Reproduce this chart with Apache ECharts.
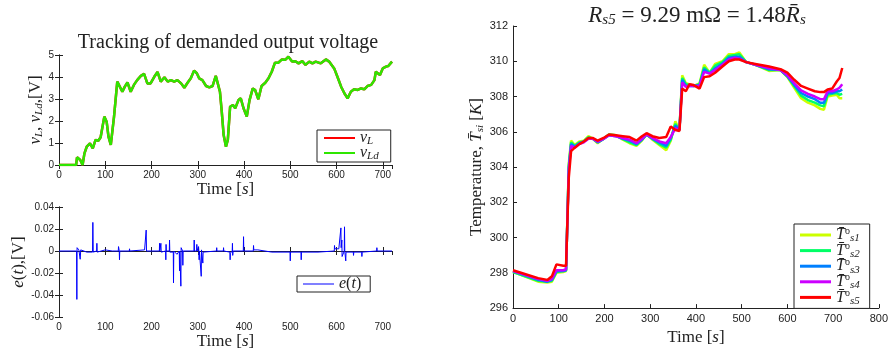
<!DOCTYPE html>
<html>
<head>
<meta charset="utf-8">
<script src="https://cdn.jsdelivr.net/npm/echarts@6/dist/echarts.min.js"></script>
<style>
  html, body { margin: 0; padding: 0; background: #fff; }
  #chart { width: 891px; height: 351px; }
</style>
</head>
<body>
<div id="chart"></div>
<script>
// top left: demanded / tracked output voltage
const voltT = [0, 37, 39, 46, 51, 55, 60, 67, 73, 79, 85, 90, 98, 103, 107, 112, 119, 126, 130, 137,
  142, 148, 155, 162, 169, 177, 184, 191, 198, 206, 213, 220, 228, 235, 242, 249, 256, 264, 271, 278,
  285, 292, 298, 303, 310, 318, 325, 332, 339, 343, 348, 352, 356, 361, 365, 370, 376, 381, 388, 393,
  399, 402, 406, 412, 419, 424, 431, 438, 446, 453, 460, 467, 474, 482, 489, 496, 504, 511, 518, 526,
  533, 541, 548, 555, 566, 577, 584, 595, 602, 610, 617, 624, 631, 638, 646, 653, 660, 667, 675, 682,
  685, 689, 694, 700, 707, 712, 720];
const vLd = [0, 0, 0.35, 0.23, 0, 0.53, 0.83, 0.98, 0.76, 1.14, 1.1, 1.26, 2.2, 1.97, 1.29, 0.91, 2.2, 3.79, 3.82, 3.33,
  3.55, 3.76, 3.33, 3.64, 3.86, 4.05, 4.14, 3.71, 3.71, 4.01, 4.23, 3.79, 3.99, 3.79, 3.86, 3.79, 3.86, 3.71, 3.51, 3.74,
  3.94, 4.29, 4.17, 3.94, 3.86, 3.59, 3.53, 3.59, 4.05, 3.99, 3.33, 2.4, 1.36, 0.83, 1.14, 2.65, 2.73, 2.58, 2.95, 3.03,
  2.58, 2.65, 2.2, 2.95, 3.48, 3.41, 2.99, 3.59, 3.74, 3.94, 4.24, 4.65, 4.65, 4.8, 4.78, 4.92, 4.7, 4.72, 4.62, 4.72,
  4.55, 4.7, 4.62, 4.7, 4.62, 4.8, 4.7, 4.39, 4.01, 3.56, 3.26, 3.03, 3.33, 3.44, 3.41, 3.48, 3.44, 3.59, 3.64, 3.86,
  4.24, 4.32, 4.09, 4.39, 4.47, 4.5, 4.7];
const vL = vLd; // v_L sits under v_Ld, the two can't be told apart

// bottom left: tracking error
const errT = [0, 38, 38.6, 39.1, 40.5, 43, 45.8, 47, 60, 72.5, 73.2, 74, 81.4, 81.9, 82.5, 100, 115,
  128.2, 128.7, 130.3, 130.8, 131.4, 152, 152.5, 153, 185, 188.5, 189.2, 217, 217.4, 218, 220.3, 221,
  230.5, 231, 231.5, 232, 238.5, 239, 239.6, 247.1, 247.6, 248.2, 255, 260, 260.6, 261.2, 263, 263.5, 264.1,
  267.2, 267.8, 268.4, 291.8, 292.3, 292.9, 297.5, 298, 298.6, 301.2, 301.7, 302.5, 303, 303.6,
  307, 307.5, 308.1, 310.5, 311, 311.6, 340.5, 341, 341.5, 355.3, 355.8, 356.3, 369.5, 370, 370.6,
  374.5, 375, 375.6, 376.5, 398.5, 399, 399.6, 420.1, 420.6, 421.2, 430, 460, 499.5, 500, 500.6,
  523.2, 523.7, 524.3, 560, 595.2, 595.7, 596.3, 605, 609, 609.5, 610.1, 611.1, 611.6, 612.1,
  616.8, 617.3, 617.9, 619.5, 620, 620.6, 636.3, 636.8, 637.4, 654.4, 654.9, 655.5, 686.8, 687.3, 687.9, 720];
const errV = [0, 0, -0.044, 0.003, 0.003, 0.001, -0.0075, 0.001, -0.001, -0.001, 0.026, -0.001, 0, 0.007, -0.001, 0.001, 0,
  0, 0.004, 0, -0.008, 0, 0, 0.002, 0, 0.001, 0.019, 0, 0, 0.007, 0, 0.007, -0.001,
  0, -0.008, 0.006, 0, 0, 0.010, -0.001, -0.001, -0.029, 0, -0.003, 0, -0.018, 0, 0, -0.032, 0.003,
  0, -0.013, 0, 0, 0.010, 0, 0, 0.006, 0, 0, 0.004, -0.001, -0.008, 0,
  0, -0.023, 0.001, 0, -0.011, -0.001, 0, 0.003, 0, 0, 0.003, 0, -0.001, -0.008, -0.002,
  0, 0.007, -0.004, 0, 0, 0.013, 0, 0, 0.005, 0.001, 0.001, -0.001, -0.001, -0.009, -0.001,
  -0.001, -0.008, -0.001, -0.001, 0, 0.005, 0.002, 0.002, 0.002, 0.021, 0.003, 0.002, 0.010, -0.005,
  0, 0.022, 0, 0, -0.009, -0.001, -0.001, -0.004, -0.001, -0.001, -0.005, -0.001, 0, 0.003, 0, 0];

// right: cell temperatures
const tempT = [0, 55, 75, 85, 95, 110, 116, 122, 127, 135, 145, 155, 165, 175, 185, 198, 210, 225, 240, 255,
  270, 282, 292, 305, 320, 335, 345, 355, 364, 370, 378, 386, 395, 408, 418, 430, 442, 458, 472, 485,
  495, 510, 530, 560, 585, 600, 615, 630, 645, 660, 672, 680, 688, 698, 708, 714, 720];
const T1 = [298.05, 297.5, 297.45, 297.5, 298.0, 298.05, 298.1, 304.2, 305.5, 305.25,
  305.45, 305.5, 305.75, 305.6, 305.35, 305.6, 305.85, 305.8, 305.55, 305.35,
  305.2, 305.5, 305.85, 305.55, 305.25, 304.95, 305.5, 306.6, 306.1, 309.2,
  308.75, 308.7, 308.6, 308.75, 309.8, 309.35, 309.85, 310.0, 310.4, 310.4,
  310.5, 309.95, 309.8, 309.45, 309.5, 309.1, 308.5, 307.9, 307.65, 307.5,
  307.3, 307.25, 308.0, 308.05, 308.1, 307.9, 307.9];
const T2 = [298.05, 297.55, 297.5, 297.55, 298.05, 298.1, 298.15, 304.05, 305.4, 305.2,
  305.4, 305.45, 305.7, 305.6, 305.4, 305.6, 305.85, 305.8, 305.6, 305.4,
  305.25, 305.55, 305.85, 305.6, 305.3, 305.1, 305.55, 306.45, 306.1, 309.05,
  308.7, 308.65, 308.6, 308.7, 309.65, 309.35, 309.75, 309.95, 310.3, 310.35,
  310.4, 309.95, 309.8, 309.5, 309.5, 309.15, 308.6, 308.05, 307.8, 307.65,
  307.5, 307.45, 308.1, 308.15, 308.2, 308.1, 308.15];
const T3 = [298.1, 297.6, 297.5, 297.6, 298.1, 298.1, 298.15, 303.95, 305.3, 305.15,
  305.35, 305.45, 305.65, 305.6, 305.4, 305.6, 305.8, 305.75, 305.6, 305.5,
  305.3, 305.55, 305.85, 305.6, 305.4, 305.2, 305.65, 306.35, 306.1, 308.95,
  308.6, 308.6, 308.6, 308.65, 309.55, 309.3, 309.6, 309.85, 310.2, 310.25,
  310.25, 309.95, 309.8, 309.55, 309.5, 309.15, 308.65, 308.2, 308.0, 307.85,
  307.65, 307.65, 308.2, 308.2, 308.3, 308.3, 308.4];
const T4 = [298.1, 297.65, 297.55, 297.65, 298.15, 298.15, 298.2, 303.8, 305.2, 305.1,
  305.3, 305.4, 305.6, 305.6, 305.45, 305.6, 305.8, 305.75, 305.65, 305.55,
  305.35, 305.6, 305.85, 305.65, 305.45, 305.35, 305.7, 306.2, 306.1, 308.8,
  308.55, 308.6, 308.6, 308.6, 309.4, 309.3, 309.5, 309.8, 310.1, 310.2,
  310.15, 309.95, 309.8, 309.6, 309.5, 309.2, 308.75, 308.35, 308.15, 308.0,
  307.85, 307.85, 308.3, 308.3, 308.4, 308.5, 308.7];
const T5 = [298.15, 297.7, 297.6, 297.8, 298.48, 298.4, 298.4, 303.4, 304.9, 305.1,
  305.3, 305.45, 305.65, 305.65, 305.5, 305.65, 305.85, 305.8, 305.75, 305.7,
  305.5, 305.75, 305.92, 305.75, 305.65, 305.7, 306.3, 306.1, 306.05, 308.45,
  308.3, 308.7, 308.65, 308.45, 309.1, 309.15, 309.35, 309.7, 310.0, 310.1,
  310.1, 309.95, 309.85, 309.7, 309.55, 309.35, 308.95, 308.6, 308.45, 308.3,
  308.25, 308.25, 308.4, 308.45, 308.85, 309.05, 309.62];
const tempColors = ['#ccff00', '#00ff66', '#0080ff', '#cc00ff', '#ff0000'];

const serif = 'Liberation Serif';
const sans = 'Liberation Sans';
const ink = '#222';

const zip = (xs, ys) => xs.map((x, i) => [x, ys[i]]);

const mathRich = (size) => ({
  i: { fontFamily: serif, fontStyle: 'italic', fontSize: size, color: ink, lineHeight: size + 2 },
  n: { fontFamily: serif, fontSize: size, color: ink, lineHeight: size + 2 },
  s: { fontFamily: serif, fontStyle: 'italic', fontSize: Math.round(size * 0.66), color: ink, lineHeight: 6, verticalAlign: 'bottom' },
  p: { fontFamily: serif, fontSize: Math.round(size * 0.6), color: ink, lineHeight: 6, verticalAlign: 'top' }
});

const axLine = { show: true, lineStyle: { color: ink, width: 1 } };
const inTick = { show: true, inside: true, length: 4, lineStyle: { color: ink } };

function xAx(grid, max, interval, withName, pos, fs) {
  const a = {
    type: 'value', gridIndex: grid, min: 0, max: max, interval: interval, position: pos || 'bottom',
    axisLine: axLine, axisTick: inTick, splitLine: { show: false },
    axisLabel: { show: !pos, fontFamily: sans, fontSize: fs || 10, color: ink, margin: 5 }
  };
  if (withName) {
    a.name = 'Time [{i|s}]';
    a.nameLocation = 'middle';
    a.nameGap = 14;
    a.nameTextStyle = { fontFamily: serif, fontSize: 17, color: ink, rich: mathRich(17) };
  }
  return a;
}

function yAx(grid, min, max, interval, pos, fmt, fs) {
  return {
    type: 'value', gridIndex: grid, min: min, max: max, interval: interval, position: pos || 'left',
    axisLine: axLine, axisTick: inTick, splitLine: { show: false },
    axisLabel: { show: !pos, formatter: fmt, fontFamily: sans, fontSize: fs || 10, color: ink, margin: 5 }
  };
}

const legendNames = {
  vL: '{i|v}{s|L}',
  vLd: '{i|v}{s|Ld}',
  e: '{i|e}{n|(}{i|t}{n|)}',
  T1: '{i|T̄}{p|o}{s|s1}',
  T2: '{i|T̄}{p|o}{s|s2}',
  T3: '{i|T̄}{p|o}{s|s3}',
  T4: '{i|T̄}{p|o}{s|s4}',
  T5: '{i|T̄}{p|o}{s|s5}'
};

function legendBox(names, left, top, lineH, pad, gap) {
  return {
    data: names, orient: 'vertical', left: left, top: top,
    icon: 'rect', itemWidth: 31, itemHeight: lineH, itemGap: gap,
    backgroundColor: '#fff', borderColor: ink, borderWidth: 1, borderRadius: 0,
    padding: pad,
    formatter: (name) => legendNames[name],
    textStyle: { fontFamily: serif, fontSize: 16, color: ink, rich: mathRich(16) }
  };
}

const chart = echarts.init(document.getElementById('chart'));

const yFmt2 = (v) => (Math.abs(v) < 1e-9 ? '0' : v.toFixed(2));

const option = {
  animation: false,
  backgroundColor: '#fff',
  title: [
    {
      text: 'Tracking of demanded output voltage', left: 228, top: 33, textAlign: 'center', padding: 0,
      textStyle: { fontFamily: serif, fontSize: 20, fontWeight: 'normal', color: ink }
    },
    {
      text: '{i|R}{s|s5}{n| = 9.29 mΩ = 1.48}{i|R̄}{s|s}', left: 697, top: 3, textAlign: 'center', padding: 0,
      textStyle: { fontFamily: serif, fontSize: 23, fontWeight: 'normal', color: ink, rich: mathRich(23) }
    }
  ],
  grid: [
    { left: 59, top: 55, width: 333, height: 110 },
    { left: 59, top: 207, width: 333, height: 110 },
    { left: 513, top: 26, width: 366, height: 288 }
  ],
  xAxis: [
    xAx(0, 720, 100, true),
    xAx(0, 720, 100, false, 'top'),
    xAx(1, 720, 100, true),
    xAx(1, 720, 100, false, 'top'),
    xAx(2, 800, 100, true, null, 11)
  ],
  yAxis: [
    Object.assign(yAx(0, 0, 5, 1), {
      name: '{i|v}{s|L}{n|, }{i|v}{s|Ld}{n|,[V]}', nameLocation: 'middle', nameGap: 12,
      nameTextStyle: { fontFamily: serif, fontSize: 17, color: ink, rich: mathRich(17) }
    }),
    yAx(0, 0, 5, 1, 'right'),
    Object.assign(yAx(1, -0.06, 0.04, 0.02, null, yFmt2), {
      name: '{i|e}{n|(}{i|t}{n|),[V]}', nameLocation: 'middle', nameGap: 20,
      nameTextStyle: { fontFamily: serif, fontSize: 17, color: ink, rich: mathRich(17) }
    }),
    yAx(1, -0.06, 0.04, 0.02, 'right'),
    Object.assign(yAx(2, 296, 312, 2, null, null, 11), {
      name: '{n|Temperature, }{i|T̄}{s|si}{n| [}{i|K}{n|]}', nameLocation: 'middle', nameGap: 21,
      nameTextStyle: { fontFamily: serif, fontSize: 17, color: ink, rich: mathRich(17) }
    })
  ],
  legend: [
    legendBox(['vL', 'vLd'], 317, 130, 2, [0, 12, 0, 7], -2),
    legendBox(['e'], 297, 276, 1, [0, 9, 0, 6], 0),
    legendBox(['T1', 'T2', 'T3', 'T4', 'T5'], 794, 224, 3, [2, 10, 2, 6], -2.4)
  ],
  series: [
    {
      name: 'vL', type: 'line', xAxisIndex: 0, yAxisIndex: 0, data: zip(voltT, vL),
      showSymbol: false, lineStyle: { color: '#ff0000', width: 2.5 }, itemStyle: { color: '#ff0000' }
    },
    {
      name: 'vLd', type: 'line', xAxisIndex: 0, yAxisIndex: 0, data: zip(voltT, vLd),
      showSymbol: false, lineStyle: { color: '#2ee600', width: 2.5 }, itemStyle: { color: '#2ee600' }
    },
    {
      name: 'e', type: 'line', xAxisIndex: 2, yAxisIndex: 2, data: zip(errT, errV),
      showSymbol: false, lineStyle: { color: '#0000ff', width: 1 }, itemStyle: { color: '#0000ff' }
    }
  ].concat([T1, T2, T3, T4, T5].map((vals, k) => ({
    name: 'T' + (k + 1), type: 'line', xAxisIndex: 4, yAxisIndex: 4, data: zip(tempT, vals),
    showSymbol: false, lineStyle: { color: tempColors[k], width: 2.5 }, itemStyle: { color: tempColors[k] }
  })))
};

chart.setOption(option);
</script>
</body>
</html>
